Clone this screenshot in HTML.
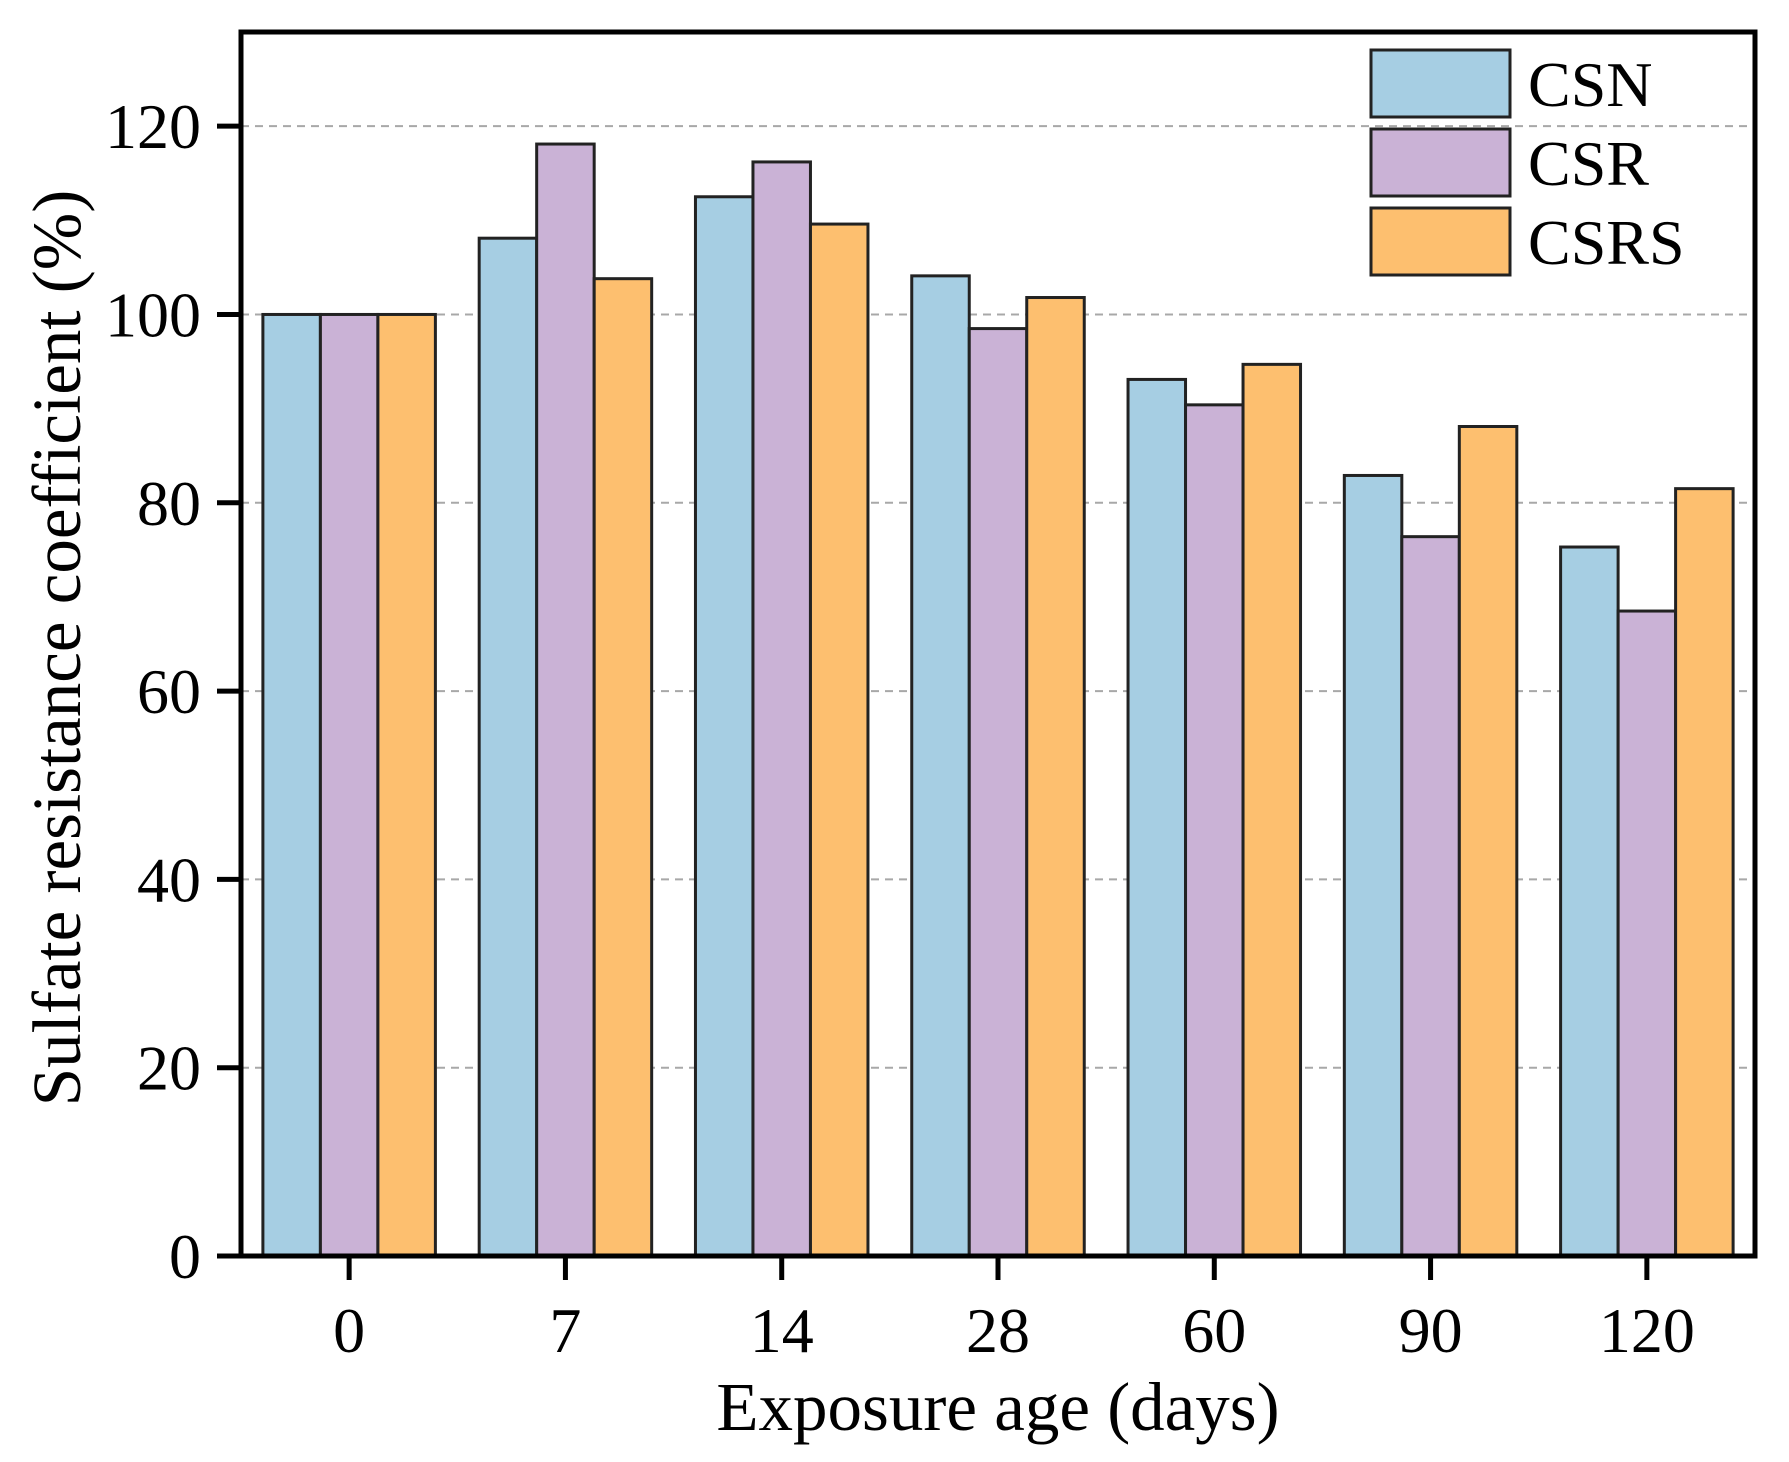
<!DOCTYPE html>
<html><head><meta charset="utf-8"><style>
html,body{margin:0;padding:0;background:#fff;}
svg{display:block;font-family:"Liberation Serif",serif;}
</style></head><body>
<svg id="chart" width="1789" height="1462" viewBox="0 0 1789 1462">
<g id="grid"></g><g id="bars"></g><g id="axes"></g><g id="legend"></g>
<text x="998" y="1430" font-size="69" text-anchor="middle">Exposure age (days)</text>
<text transform="translate(80,648) rotate(-90)" font-size="69" text-anchor="middle">Sulfate resistance coefficient (%)</text>
</svg>
<script>
const categories = ["0","7","14","28","60","90","120"];
const seriesNames = ["CSN","CSR","CSRS"];
const csn = [100,108.1,112.5,104.1,93.1,82.9,75.3];
const csr = [100,118.1,116.2,98.5,90.4,76.4,68.5];
const csrs = [100,103.8,109.6,101.8,94.7,88.1,81.5];
const yTicks = [0,20,40,60,80,100,120];

const NS="http://www.w3.org/2000/svg";
const L=241,R=1755,T=32,B=1256,YMAX=130;
const y=v=>B-(v/YMAX)*(B-T);
const band=(R-L)/categories.length;
const xc=i=>L+band*(i+0.5);
const bw=57.5;
function mk(tag,attrs,parent){const e=document.createElementNS(NS,tag);for(const k in attrs)e.setAttribute(k,attrs[k]);parent.appendChild(e);return e;}
const grid=document.getElementById('grid'),bars=document.getElementById('bars'),axes=document.getElementById('axes'),legend=document.getElementById('legend');
const colors=["#a6cee3","#cab2d6","#fdbf6f"];
const data=[csn,csr,csrs];
yTicks.forEach(t=>{
  if(t>0){const g=mk('line',{x1:L,x2:R,y1:y(t),y2:y(t),stroke:'#a8a8a8','stroke-width':2,'stroke-dasharray':'8,6'},grid);
  
  }
  const tk=mk('line',{x1:L-24,x2:L,y1:y(t),y2:y(t),stroke:'#000','stroke-width':5},axes);
  
  
  const lb=mk('text',{x:L-40,y:y(t)+22,'font-size':64,'text-anchor':'end'},axes);
  lb.textContent=t;
  
  
});
categories.forEach((c,i)=>{
  data.forEach((s,j)=>{
    const x=xc(i)+(j-1.5)*bw;
    const r=mk('rect',{x:x,y:y(s[i]),width:bw,height:B-y(s[i]),fill:colors[j],stroke:'#222','stroke-width':3},bars);
    
    
  });
  const tk=mk('line',{x1:xc(i),x2:xc(i),y1:B,y2:B+24,stroke:'#000','stroke-width':5},axes);
  
  
  const lb=mk('text',{x:xc(i),y:B+96,'font-size':64,'text-anchor':'middle'},axes);
  lb.textContent=c;
  
  
});
const frame=mk('rect',{x:L,y:T,width:R-L,height:B-T,fill:'none',stroke:'#000','stroke-width':5},axes);


seriesNames.forEach((n,j)=>{
  const yy=50+j*79;
  const r=mk('rect',{x:1371,y:yy,width:139,height:67,fill:colors[j],stroke:'#222','stroke-width':3},legend);
  
  
  const t=mk('text',{x:1528,y:yy+56,'font-size':64},legend);
  t.textContent=n;
  
  
});
</script>
</body></html>
